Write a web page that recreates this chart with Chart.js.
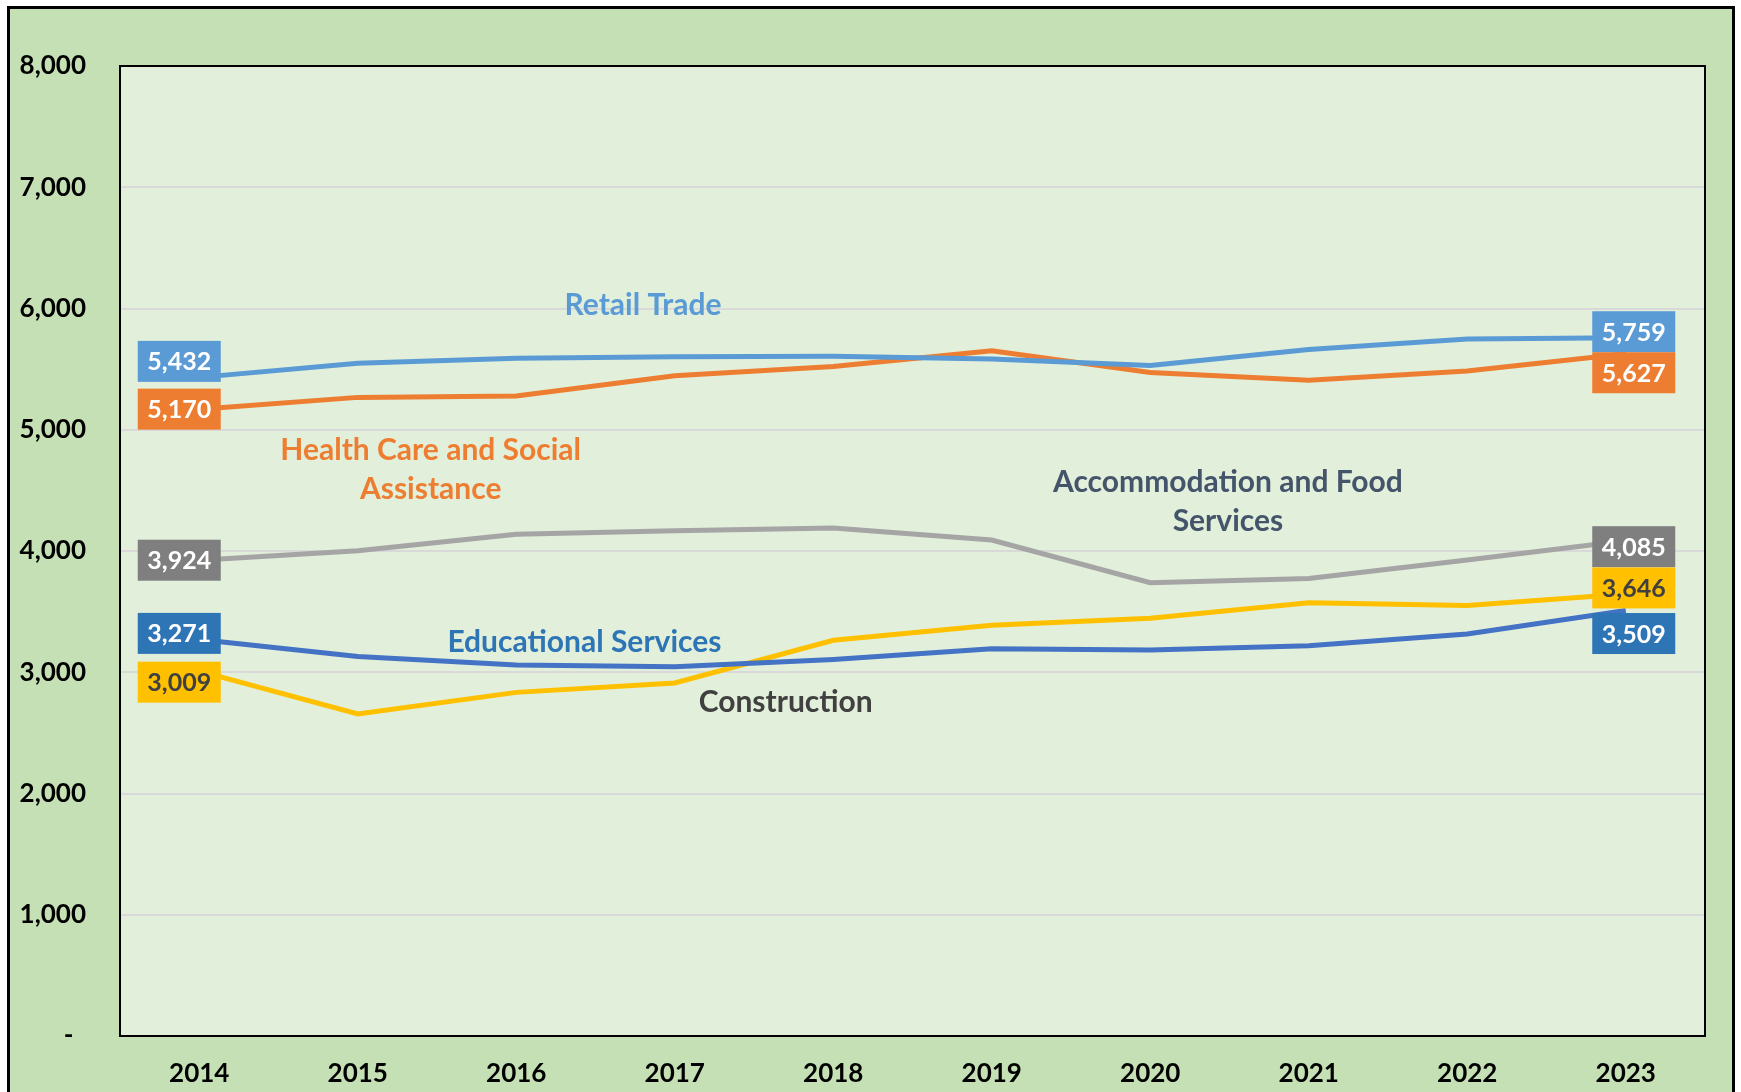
<!DOCTYPE html>
<html>
<head>
<meta charset="utf-8">
<script src="https://cdn.jsdelivr.net/npm/chart.js@4.4.0/dist/chart.umd.min.js"></script>
<style>
  html, body { margin: 0; padding: 0; background: #fff; overflow: hidden; }
  #frame { position: absolute; left: 7px; top: 6px; width: 1722px; height: 1100px; border: 3px solid #000; background: #C5E0B4; }
  canvas { display: block; }
</style>
</head>
<body>
<div id="frame"><canvas id="jobsChart" width="1722" height="1083"></canvas></div>
<script>
// values
const years = ['2014', '2015', '2016', '2017', '2018', '2019', '2020', '2021', '2022', '2023'];
const retailTrade   = [5432, 5548, 5590, 5603, 5607, 5583, 5530, 5662, 5749, 5759];
const healthCare    = [5170, 5267, 5279, 5445, 5521, 5652, 5472, 5408, 5484, 5627];
const accommodation = [3924, 4003, 4139, 4166, 4190, 4090, 3738, 3774, 3925, 4085];
const educational   = [3271, 3130, 3060, 3045, 3106, 3193, 3184, 3218, 3315, 3509];
const construction  = [3009, 2656, 2834, 2912, 3264, 3388, 3445, 3573, 3551, 3646];
const yMax = 8000;
const yStep = 1000;

// series name labels placed in the plot: [category index, value]
const seriesNotes = [
  { lines: ['Retail Trade'], color: '#5B9BD5', at: [2.80, 6029] },
  { lines: ['Health Care and Social', 'Assistance'], color: '#ED7D31', at: [1.46, 4672] },
  { lines: ['Accommodation and Food', 'Services'], color: '#44546A', at: [6.49, 4404] },
  { lines: ['Educational Services'], color: '#2E75B6', at: [2.43, 3249] },
  { lines: ['Construction'], color: '#404040', at: [3.70, 2755] }
];

const FONT = 'Lato, "Noto Sans", sans-serif';

// fill plot area and draw its frame
const plotArea = {
  id: 'plotArea',
  beforeDraw(chart) {
    const { ctx, chartArea: a } = chart;
    ctx.save();
    ctx.fillStyle = '#E2EFDA';
    ctx.fillRect(a.left, a.top, a.right - a.left, a.bottom - a.top);
    ctx.restore();
  },
  beforeDatasetsDraw(chart) {
    const { ctx, chartArea: a } = chart;
    ctx.save();
    ctx.strokeStyle = '#000';
    ctx.lineWidth = 2;
    ctx.strokeRect(a.left, a.top, a.right - a.left, a.bottom - a.top);
    ctx.restore();
  }
};

// boxed value labels at first and last point
const endLabels = {
  id: 'endLabels',
  afterDatasetsDraw(chart) {
    const ctx = chart.ctx;
    ctx.save();
    ctx.font = 'bold 25px ' + FONT;
    ctx.textAlign = 'center';
    ctx.textBaseline = 'middle';
    chart.data.datasets.forEach((ds, i) => {
      const pts = chart.getDatasetMeta(i).data;
      const ends = [
        { p: pts[0], v: ds.data[0], dx: -20, dy: ds.startDy },
        { p: pts[pts.length - 1], v: ds.data[ds.data.length - 1], dx: 8, dy: ds.endDy }
      ];
      ends.forEach(e => {
        const cx = e.p.x + e.dx, cy = e.p.y + e.dy;
        ctx.fillStyle = ds.boxColor;
        ctx.fillRect(cx - 41.5, cy - 20.5, 83, 41);
        ctx.fillStyle = ds.boxText;
        ctx.fillText(e.v.toLocaleString('en-US'), cx, cy + 1);
      });
    });
    ctx.restore();
  }
};

const notes = {
  id: 'notes',
  afterDatasetsDraw(chart) {
    const { ctx, scales } = chart;
    ctx.save();
    ctx.font = 'bold 30px ' + FONT;
    ctx.textAlign = 'center';
    ctx.textBaseline = 'middle';
    seriesNotes.forEach(n => {
      const x = scales.x.getPixelForValue(n.at[0]);
      const y = scales.y.getPixelForValue(n.at[1]);
      const lh = 39;
      const y0 = y - (n.lines.length - 1) * lh / 2;
      ctx.fillStyle = n.color;
      n.lines.forEach((t, k) => ctx.fillText(t, x, y0 + k * lh));
    });
    ctx.restore();
  }
};

const lineSet = (label, data, color, boxColor, boxText, startDy, endDy) => ({
  label, data,
  borderColor: color,
  backgroundColor: color,
  borderWidth: 5,
  pointRadius: 0,
  tension: 0,
  fill: false,
  boxColor, boxText, startDy, endDy
});

new Chart(document.getElementById('jobsChart'), {
  type: 'line',
  data: {
    labels: years,
    datasets: [
      lineSet('Retail Trade', retailTrade, '#5B9BD5', '#5B9BD5', '#fff', -16, -6),
      lineSet('Health Care and Social Assistance', healthCare, '#ED7D31', '#ED7D31', '#fff', 0, 19),
      lineSet('Accommodation and Food Services', accommodation, '#A5A5A5', '#7F7F7F', '#fff', 0, 6),
      lineSet('Educational Services', educational, '#4472C4', '#2E75B6', '#fff', -6, 23),
      lineSet('Construction', construction, '#FFC000', '#FFC000', '#404040', 11, -6)
    ]
  },
  options: {
    responsive: false,
    animation: false,
    devicePixelRatio: 1,
    layout: { padding: { left: 0, right: 27, top: 57, bottom: 0 }, autoPadding: false },
    plugins: {
      legend: { display: false },
      tooltip: { enabled: false }
    },
    scales: {
      x: {
        offset: true,
        grid: { display: false },
        border: { display: false },
        ticks: { color: '#000', font: { family: FONT, size: 26, weight: 'bold' }, padding: 14, maxRotation: 0 },
        afterFit: s => { s.height = 56; }
      },
      y: {
        min: 0,
        max: yMax,
        grid: { color: '#D9D9D9', lineWidth: 2, drawTicks: false },
        border: { display: false },
        ticks: {
          stepSize: yStep,
          color: '#000',
          padding: 34,
          font: { family: FONT, size: 26, weight: 'bold' },
          callback: v => v === 0 ? '-  ' : v.toLocaleString('en-US')
        },
        afterFit: s => { s.width = 110; }
      }
    }
  },
  plugins: [plotArea, endLabels, notes]
});
</script>
</body>
</html>
